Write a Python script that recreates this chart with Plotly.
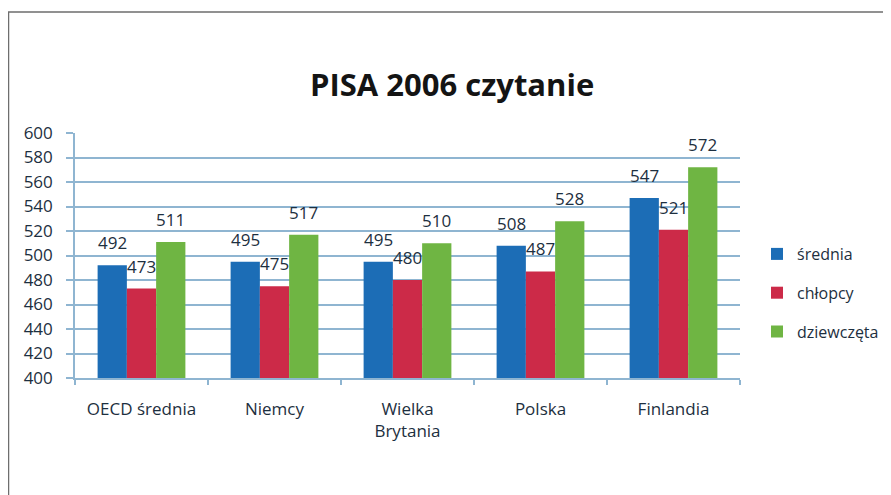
import plotly.graph_objects as go

categories = ["OECD średnia", "Niemcy", "Wielka<br>Brytania", "Polska", "Finlandia"]
series_names = ["średnia", "chłopcy", "dziewczęta"]
srednia = [492, 495, 495, 508, 547]
chlopcy = [473, 475, 480, 487, 521]
dziewczeta = [511, 517, 510, 528, 572]
y_ticks = [400, 420, 440, 460, 480, 500, 520, 540, 560, 580, 600]

colors = ["#1c6db6", "#cc2a48", "#6fb543"]
values = [srednia, chlopcy, dziewczeta]

FONT = "Open Sans, sans-serif"
TXT = "#1d2f40"

# page has an 8px body margin; work in window pixels and convert
OFF = 8
W, H = 883, 487
L, T = 75 - OFF, 133 - OFF           # plot area left/top in figure px
PR, PB = 740 - OFF, 378 - OFF        # plot area right/bottom in figure px
R, B = W - PR, H - PB
pw, ph = PR - L, PB - T


def px_x(wx):
    return (wx - OFF - L) / pw


def px_y(wy):
    return (PB - (wy - OFF)) / ph


fig = go.Figure()
for i, (name, vals) in enumerate(zip(series_names, values)):
    fig.add_trace(go.Bar(
        x=categories, y=vals, name=name, marker_color=colors[i],
        marker_line_width=0, legendgroup=name,
    ))

annotations = []
for i, vals in enumerate(values):
    for j, v in enumerate(vals):
        annotations.append(dict(
            x=categories[j], y=v, xref="x", yref="y", text=str(v),
            showarrow=False, yanchor="bottom", xanchor="center",
            xshift=(i - 1) * 29.3, yshift=9,
            font=dict(family=FONT, size=17, color=TXT),
        ))

annotations.append(dict(
    text="<b>PISA 2006 czytanie</b>", xref="paper", yref="paper",
    x=px_x(452), y=px_y(84), xanchor="center", yanchor="middle",
    showarrow=False, font=dict(family=FONT, size=31, color="#141414"),
))

grid = "#8fb5d1"
fig.update_layout(
    width=W, height=H,
    margin=dict(l=L, r=R, t=T, b=B, autoexpand=False),
    paper_bgcolor="white", plot_bgcolor="white",
    barmode="group", bargap=0.34, bargroupgap=0,
    showlegend=True,
    legend=dict(
        x=px_x(757), y=px_y(237), xanchor="left", yanchor="top",
        font=dict(family=FONT, size=16, color=TXT),
        tracegroupgap=15, bgcolor="rgba(0,0,0,0)", itemwidth=30,
    ),
    annotations=annotations,
    shapes=[dict(
        type="rect", xref="paper", yref="paper",
        x0=px_x(8.5), x1=px_x(905),
        y0=px_y(520), y1=px_y(12),
        line=dict(color="#6e6e6e", width=1.5), layer="below",
    )],
)
fig.update_yaxes(
    range=[400, 600], tickvals=y_ticks, showgrid=True, gridcolor=grid, gridwidth=1.6,
    showline=True, linecolor=grid, linewidth=1.6, ticks="outside", ticklen=7,
    tickcolor=grid, tickwidth=1.6, zeroline=False, ticklabelstandoff=10,
    tickfont=dict(family=FONT, size=17, color=TXT),
)
fig.update_xaxes(
    showline=True, linecolor=grid, linewidth=1.6, ticks="outside", ticklen=5,
    tickcolor=grid, tickwidth=1.6, tickson="boundaries", ticklabelstandoff=15,
    tickfont=dict(family=FONT, size=17, color=TXT),
)

fig.write_html("out.html")
